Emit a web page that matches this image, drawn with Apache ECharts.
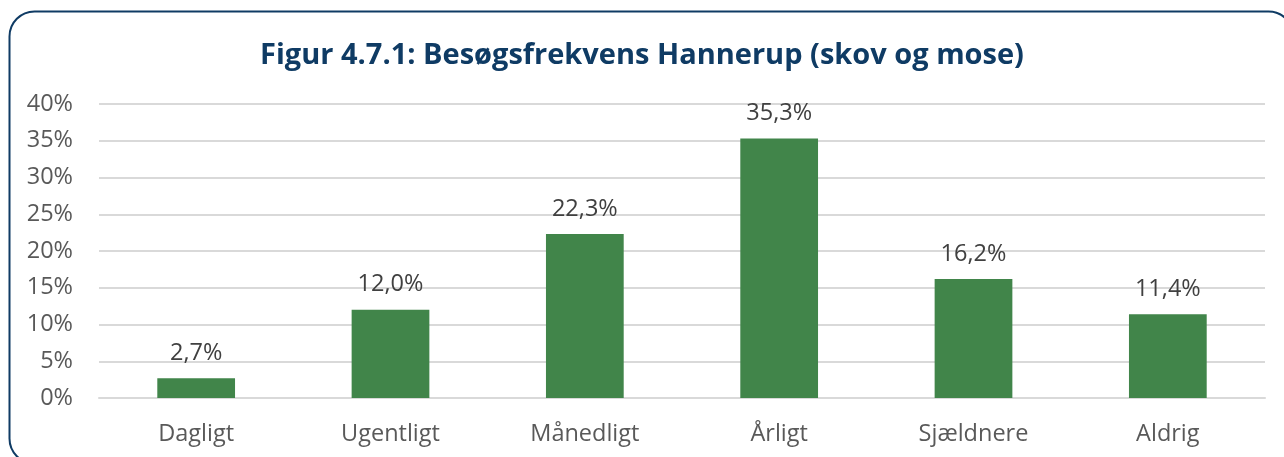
<!DOCTYPE html>
<html>
<head>
<meta charset="utf-8">
<script src="https://cdn.jsdelivr.net/npm/echarts@6/dist/echarts.min.js"></script>
<style>
  html, body { margin: 0; padding: 0; background: #ffffff; }
  #chart { width: 1284px; height: 457px; }
</style>
</head>
<body>
<div id="chart"></div>
<script>
// Besøgsfrekvens for Hannerup (skov og mose), andel af svar i procent
const titleText = 'Figur 4.7.1: Besøgsfrekvens Hannerup (skov og mose)';
const categories = ['Dagligt', 'Ugentligt', 'Månedligt', 'Årligt', 'Sjældnere', 'Aldrig'];
const shares = [2.7, 12.0, 22.3, 35.3, 16.2, 11.4];

const navy = '#0f3b64';
const green = '#41854a';
const font = '"Open Sans", sans-serif';

const chart = echarts.init(document.getElementById('chart'), null, { renderer: 'canvas' });

chart.setOption({
  backgroundColor: '#ffffff',
  animation: false,
  graphic: [{
    type: 'rect',
    shape: { x: 9.5, y: 11.5, width: 1284, height: 452, r: 25 },
    style: { fill: 'none', stroke: navy, lineWidth: 2 },
    z: -1
  }],
  title: {
    text: titleText,
    left: 'center',
    top: 36,
    textStyle: {
      fontFamily: font,
      fontWeight: 'bold',
      fontSize: 29,
      color: navy
    }
  },
  grid: { left: 99, right: 19, top: 104, bottom: 59, containLabel: false },
  xAxis: {
    type: 'category',
    data: categories,
    axisLine: { show: true, lineStyle: { color: '#d9d9d9', width: 2 } },
    axisTick: { show: false },
    axisLabel: {
      color: '#595959',
      fontFamily: font,
      fontSize: 23.5,
      margin: 24
    }
  },
  yAxis: {
    type: 'value',
    min: 0,
    max: 40,
    interval: 5,
    axisLine: { show: false },
    axisTick: { show: false },
    splitLine: { lineStyle: { color: '#d9d9d9', width: 2 } },
    axisLabel: {
      color: '#595959',
      fontFamily: font,
      fontSize: 23.5,
      margin: 26,
      formatter: v => v + '%'
    }
  },
  series: [{
    type: 'bar',
    data: shares,
    barWidth: '40%',
    itemStyle: { color: green },
    label: {
      show: true,
      position: 'top',
      distance: 13,
      color: '#404040',
      fontFamily: font,
      fontSize: 23.5,
      formatter: p => p.value.toFixed(1).replace('.', ',') + '%'
    }
  }]
});
</script>
</body>
</html>
